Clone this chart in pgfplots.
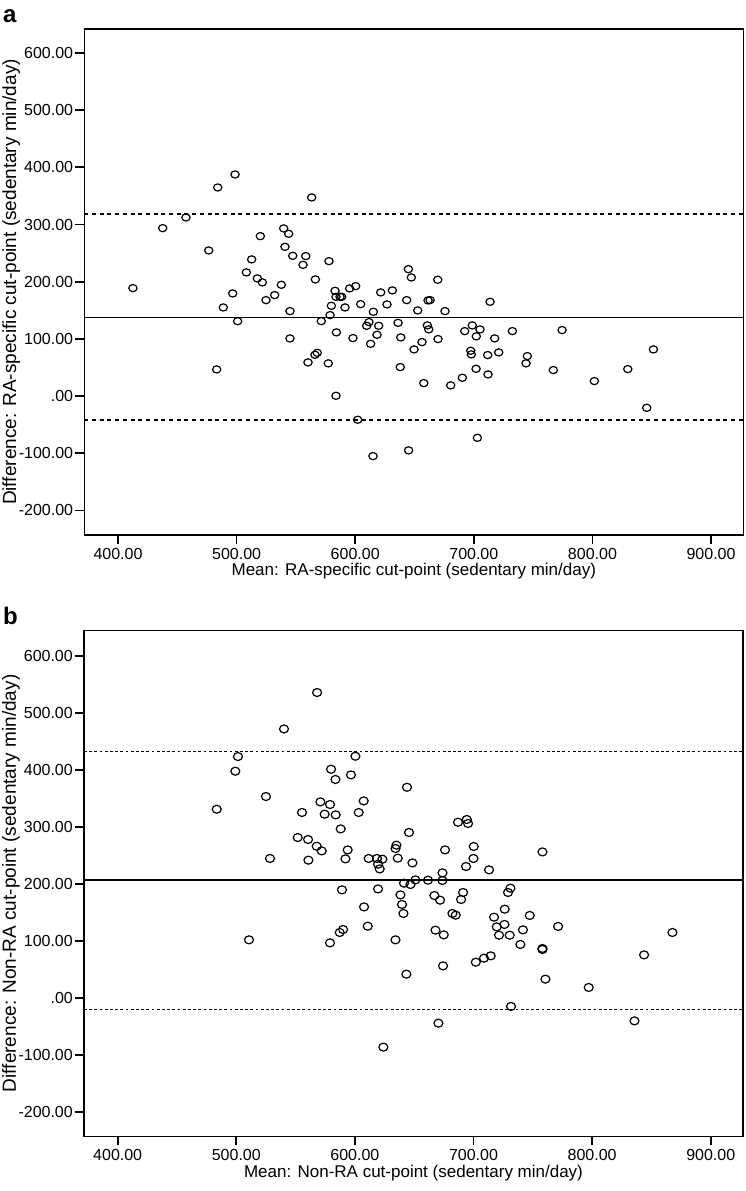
\documentclass[border=0pt]{standalone}
\usepackage{fontspec}
\setmainfont{Liberation Sans}
\usepackage{pgfplots}
\pgfplotsset{compat=1.18}
\pgfplotsset{
  baplot/.style={
    width=659pt, height=506pt, scale only axis,
    anchor=north west,
    xmin=371.6, xmax=927.2,
    xtick={400,500,600,700,800,900},
    xticklabels={400.00,500.00,600.00,700.00,800.00,900.00},
    ytick={-200,-100,0,100,200,300,400,500,600},
    yticklabels={-200.00,-100.00,.00,100.00,200.00,300.00,400.00,500.00,600.00},
    xtick pos=bottom, ytick pos=left,
    tick align=outside, major tick length=9pt,
    tick style={line width=1.8pt, black},
    axis line style={line width=1.3pt, black},
    ticklabel style={font=\fontsize{16}{19}\selectfont},
    xlabel style={font=\fontsize{17}{20}\selectfont},
    ylabel style={font=\fontsize{19}{22}\selectfont},
    xticklabel style={inner sep=0pt, anchor=north, yshift=-4pt},
    yticklabel style={inner sep=0pt, anchor=east, xshift=-2pt},
    xlabel style={at={(axis description cs:0.5,-0.081)}, anchor=base},
    ylabel style={at={(axis description cs:-0.111,0.5)}, anchor=center, inner sep=0pt},
  },
}
\begin{document}
\begin{tikzpicture}
\path[use as bounding box] (0,0) rectangle (745pt,-1191pt);
\node[anchor=base west, inner sep=0pt, font=\fontsize{24}{26}\selectfont\bfseries] at (3pt,-22pt) {a};
\node[anchor=base west, inner sep=0pt, font=\fontsize{24}{26}\selectfont\bfseries] at (3pt,-624pt) {b};

% ---------------- Panel a ----------------
\begin{axis}[baplot, at={(84.3pt,-29pt)},
  ymin=-243, ymax=642,
  xlabel={Mean: RA-specific cut-point (sedentary min/day)},
  ylabel={Difference: RA-specific cut-point (sedentary min/day)}]
\addplot[black, line width=1.8pt] coordinates {(371.6,137.5) (927.2,137.5)};
\addplot[black, line width=1.8pt, dash pattern=on 4pt off 3.7pt] coordinates {(371.6,318) (927.2,318)};
\addplot[black, line width=1.8pt, dash pattern=on 4pt off 3.7pt] coordinates {(371.6,-42) (927.2,-42)};
\addplot[only marks, mark=o, mark size=3.6pt, mark options={xscale=1.15, line width=1.2pt, black}] table {
x y
498.7 387.6
484.1 364.8
563.3 347.4
457.3 312.4
437.7 293.7
539.7 293.2
543.9 283.8
520.0 279.7
476.5 254.7
540.8 261.0
547.3 245.3
558.3 244.8
556.0 229.5
512.7 239.0
508.2 216.3
517.5 205.8
521.7 198.8
566.4 204.0
537.7 194.6
412.6 188.8
496.7 179.5
532.1 176.6
524.8 167.8
488.8 155.0
545.0 148.6
500.9 131.0
545.0 100.8
568.0 75.6
566.1 72.2
560.2 58.9
483.2 46.6
577.9 236.0
644.8 222.0
647.3 207.5
669.6 203.4
583.0 184.1
583.8 173.6
587.2 173.6
588.6 173.6
595.3 188.3
600.4 192.3
621.5 181.3
631.3 184.8
579.9 157.9
591.4 155.0
604.6 160.8
626.8 160.3
643.4 167.8
661.4 167.3
663.1 167.8
713.7 164.9
615.3 147.4
652.7 149.8
675.7 148.6
578.8 141.6
571.4 131.1
611.6 129.4
609.7 122.9
619.8 122.9
636.1 128.1
660.8 123.6
662.0 116.6
698.7 123.6
692.3 113.6
705.2 116.6
702.1 104.4
732.5 113.6
584.1 111.4
618.4 107.2
598.1 101.4
638.4 102.6
669.8 99.7
717.6 100.9
613.0 91.4
656.3 94.4
649.6 81.6
697.4 79.2
697.9 72.9
711.7 71.7
721.0 76.4
577.3 57.2
638.0 50.7
701.9 47.7
712.0 37.9
690.3 32.0
657.8 22.7
680.5 18.7
583.8 0.5
602.1 -41.4
774.4 115.4
745.1 69.9
744.0 57.2
851.4 81.6
767.0 45.5
829.8 47.2
801.6 26.2
845.8 -20.5
703.0 -73.0
645.0 -95.0
615.0 -105.0
};
\end{axis}

% ---------------- Panel b ----------------
\begin{axis}[baplot, at={(84pt,-630.3pt)},
  ymin=-243, ymax=645,
  xlabel={Mean: Non-RA cut-point (sedentary min/day)},
  ylabel={Difference: Non-RA cut-point (sedentary min/day)}]
\addplot[black, line width=1.4pt] coordinates {(371.6,207) (927.2,207)};
\addplot[black, line width=1.1pt, dash pattern=on 2.7pt off 2.5pt] coordinates {(371.6,432.8) (927.2,432.8)};
\addplot[black, line width=1.1pt, dash pattern=on 2.7pt off 2.5pt] coordinates {(371.6,-19.8) (927.2,-19.8)};
\addplot[only marks, mark=o, mark size=4pt, mark options={xscale=1.12, line width=1.2pt, black}] table {
x y
568.1 535.8
540.2 471.9
501.4 423.5
600.4 424.0
499.2 397.7
579.9 401.2
583.6 383.2
596.7 391.2
525.0 353.3
483.5 331.0
570.9 343.9
579.0 339.3
607.4 345.6
555.4 325.3
574.5 322.3
583.8 321.1
603.2 325.3
588.0 296.5
551.8 281.4
560.5 277.9
567.8 266.1
572.0 257.9
593.9 259.6
528.4 244.6
560.8 241.6
592.0 243.9
611.6 244.6
589.1 189.5
607.7 159.6
610.8 125.8
510.7 101.8
590.0 120.0
587.2 114.7
579.0 96.5
643.9 369.6
686.9 308.2
694.3 313.0
695.4 306.0
645.6 290.2
635.0 267.9
634.2 262.1
636.1 245.1
676.0 259.6
700.2 265.6
699.9 244.6
758.1 256.1
618.6 244.6
623.2 243.3
619.5 234.6
620.9 226.3
648.5 236.8
673.8 219.3
693.7 230.5
713.1 224.6
641.4 201.2
646.8 198.9
651.0 207.0
661.6 206.5
673.8 206.0
619.5 191.2
638.4 180.7
639.7 163.9
640.9 148.1
667.0 179.6
671.8 171.4
691.2 184.9
689.5 172.6
731.1 192.5
729.1 184.9
682.2 148.1
685.0 145.1
726.3 155.6
717.3 141.6
747.4 144.6
719.6 124.6
726.1 128.8
667.9 118.8
674.9 110.5
721.5 110.0
730.5 110.0
741.7 119.3
771.3 125.3
634.2 101.8
739.5 93.7
758.1 86.7
758.1 84.9
701.9 62.6
708.8 69.6
714.5 73.7
760.6 32.8
643.4 41.6
674.3 56.1
731.6 -15.1
670.4 -44.4
624.0 -86.5
867.7 114.7
843.8 75.4
797.1 18.2
835.7 -40.4
};
\end{axis}
\end{tikzpicture}
\end{document}
